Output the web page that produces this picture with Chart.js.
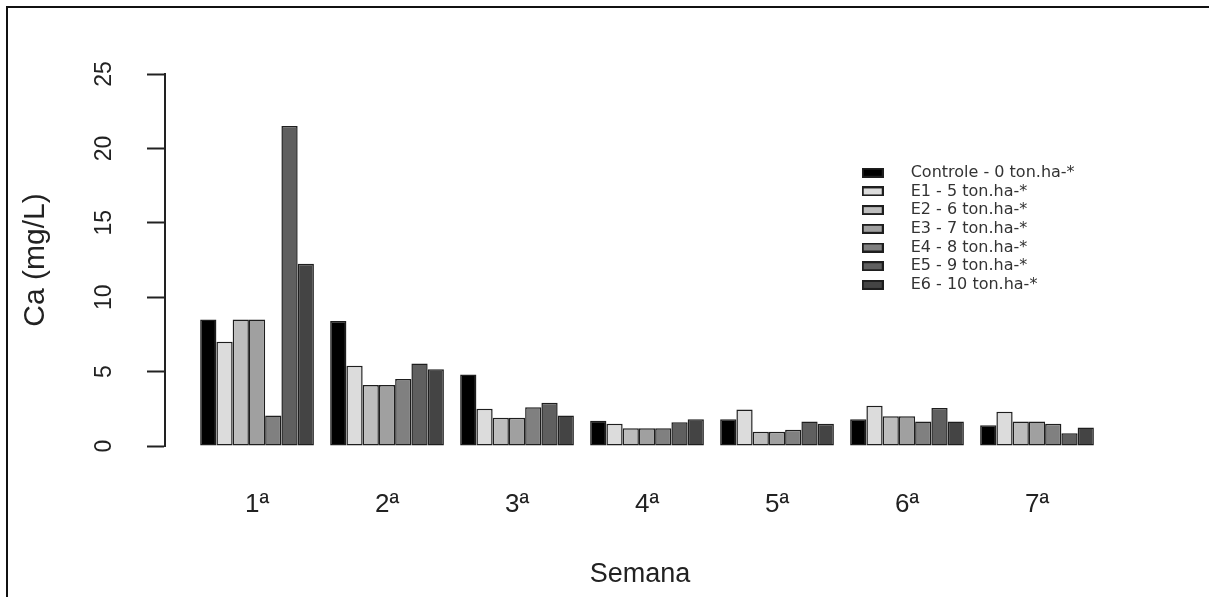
<!DOCTYPE html>
<html>
<head>
<meta charset="utf-8">
<script src="https://cdn.jsdelivr.net/npm/chart.js@4.4.1/dist/chart.umd.min.js"></script>
<style>
  html, body { margin: 0; padding: 0; background: #fff; }
</style>
</head>
<body>
<canvas id="graph" width="1209" height="597"></canvas>
<script>
// dados (Ca em mg/L por semana)
const semanas = ['1ª', '2ª', '3ª', '4ª', '5ª', '6ª', '7ª'];
const tratamentos = [
  'Controle - 0 ton.ha-*',
  'E1 - 5 ton.ha-*',
  'E2 - 6 ton.ha-*',
  'E3 - 7 ton.ha-*',
  'E4 - 8 ton.ha-*',
  'E5 - 9 ton.ha-*',
  'E6 - 10 ton.ha-*'
];
const controle = [8.5, 8.4, 4.8, 1.7, 1.8, 1.8, 1.4];
const e1 = [7.0, 5.4, 2.5, 1.5, 2.45, 2.7, 2.3];
const e2 = [8.5, 4.1, 1.9, 1.2, 0.95, 2.0, 1.65];
const e3 = [8.5, 4.1, 1.9, 1.2, 0.95, 2.0, 1.65];
const e4 = [2.05, 4.5, 2.6, 1.2, 1.1, 1.65, 1.5];
const e5 = [21.5, 5.55, 2.9, 1.6, 1.65, 2.55, 0.85];
const e6 = [12.25, 5.15, 2.05, 1.8, 1.5, 1.65, 1.25];
const yTicks = [0, 5, 10, 15, 20, 25];

const cores = ['#000000', '#dcdcdc', '#bdbdbd', '#a0a0a0', '#808080', '#5f5f5f', '#444444'];
const series = [controle, e1, e2, e3, e4, e5, e6];

const narrow = "'Liberation Sans Narrow', 'Liberation Sans', Arial, sans-serif";
const regular = "'Liberation Sans', Arial, sans-serif";

// quadradinhos da legenda
const swatches = cores.map(c => {
  const cv = document.createElement('canvas');
  cv.width = 22; cv.height = 10;
  const g = cv.getContext('2d');
  g.fillStyle = c;
  g.fillRect(0, 0, 22, 10);
  g.strokeStyle = '#1e1e1e';
  g.lineWidth = 2;
  g.strokeRect(1, 1, 20, 8);
  return cv;
});

const datasets = series.map((vals, i) => ({
  label: tratamentos[i],
  data: vals.map((v, k) => ({x: k + 1, y: v})),
  backgroundColor: cores[i],
  borderColor: '#1e1e1e',
  borderWidth: 1.5,
  borderSkipped: false,
  categoryPercentage: 0.875,
  barPercentage: 1
}));

const moldura = {
  id: 'moldura',
  afterLayout(chart) {
    const lg = chart.legend;
    lg.left = 840; lg.top = 162;
    lg.right = lg.left + lg.width; lg.bottom = lg.top + lg.height;
  },
  afterDraw(chart) {
    const ctx = chart.ctx;
    ctx.save();
    ctx.fillStyle = '#111';
    ctx.fillRect(6, 6, 1209, 2);
    ctx.fillRect(6, 6, 2, 597);
    ctx.restore();
  }
};

const canva = document.getElementById('graph');

const config = {
  type: 'bar',
  data: { datasets },
  options: {
    responsive: false,
    animation: false,
    layout: { padding: { top: 74, right: 94, bottom: 0, left: 0 } },
    plugins: {
      title: { display: false },
      tooltip: { enabled: false },
      legend: {
        position: 'chartArea',
        align: 'start',
        labels: {
          usePointStyle: true,
          pointStyleWidth: 60,
          padding: 2.7,
          color: '#333',
          font: { family: "'DejaVu Sans', sans-serif", size: 16 },
          generateLabels: chart => Chart.defaults.plugins.legend.labels.generateLabels(chart)
            .map((item, i) => Object.assign(item, { pointStyle: swatches[i] }))
        }
      }
    },
    scales: {
      x: {
        type: 'linear',
        min: 0.292,
        max: 7.6,
        offset: false,
        afterBuildTicks: s => { s.ticks = semanas.map((_, i) => ({ value: i + 1 })); },
        afterFit: s => { s.height = 151; },
        border: { display: false },
        grid: { display: false, drawTicks: false },
        ticks: {
          autoSkip: false,
          maxRotation: 0,
          padding: 43,
          color: '#222',
          font: { family: narrow, size: 26 },
          callback: v => semanas[v - 1]
        },
        title: {
          display: true,
          text: 'Semana',
          color: '#222',
          font: { family: narrow, size: 27 },
          padding: { top: 0, bottom: 6 }
        }
      },
      y: {
        min: 0,
        max: 25,
        afterBuildTicks: s => { s.ticks = yTicks.map(v => ({ value: v })); },
        afterFit: s => { s.width = 165; },
        border: { display: true, color: '#222', width: 2 },
        grid: { drawOnChartArea: false, drawTicks: true, tickLength: 18, tickColor: '#222', tickWidth: 2 },
        ticks: {
          minRotation: 90,
          maxRotation: 90,
          crossAlign: 'center',
          padding: 30,
          color: '#222',
          font: { family: regular, size: 23 }
        },
        title: {
          display: true,
          text: 'Ca (mg/L)',
          color: '#222',
          font: { family: regular, size: 30 },
          padding: { top: 18, bottom: 0 }
        }
      }
    }
  },
  plugins: [moldura]
};

var chart = new Chart(canva, config);
</script>
</body>
</html>
